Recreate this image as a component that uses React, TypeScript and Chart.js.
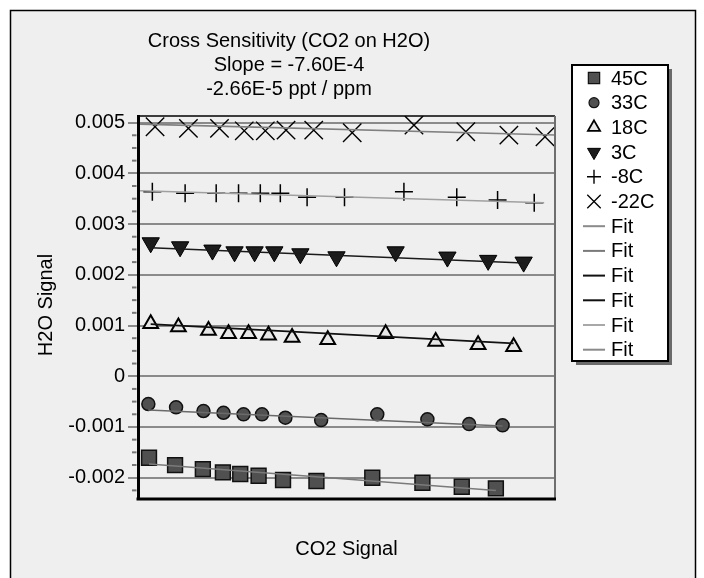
import React, { useEffect, useRef } from 'react';
import { Chart, registerables } from 'chart.js';

Chart.register(...registerables);

// ---------- data ----------
const seriesNames = ['45C', '33C', '18C', '3C', '-8C', '-22C'];

const x45 = [2.64, 8.89, 15.55, 20.36, 24.52, 28.92, 34.78, 42.79, 56.18, 68.2, 77.64, 85.82];
const y45 = [-0.001607, -0.001751, -0.00183, -0.001895, -0.001928, -0.001962, -0.002046, -0.002066, -0.002001, -0.0021, -0.002178, -0.00221];

const x33 = [2.48, 9.13, 15.7, 20.5, 25.31, 29.74, 35.34, 43.92, 57.38, 69.4, 79.4, 87.43];
const y33 = [-0.000548, -0.000613, -0.000686, -0.00072, -0.000751, -0.000751, -0.000818, -0.000864, -0.000751, -0.00085, -0.000943, -0.000968];

const x18 = [3.05, 9.69, 16.9, 21.71, 26.51, 31.3, 36.95, 45.5, 59.38, 71.39, 81.56, 90.07];
const y18 = [0.001034, 0.000969, 0.000904, 0.000837, 0.000837, 0.000806, 0.000766, 0.000719, 0.000837, 0.000687, 0.00062, 0.000581];

const x3 = [3.05, 10.1, 17.86, 23.15, 27.96, 32.69, 38.94, 47.6, 61.78, 74.2, 83.97, 92.48];
const y3 = [0.002631, 0.002552, 0.002487, 0.002453, 0.002453, 0.002453, 0.002414, 0.002355, 0.002453, 0.002349, 0.002284, 0.00225];

const xm8 = [3.44, 11.3, 18.75, 24.11, 29.33, 34.13, 40.55, 49.52, 63.77, 76.44, 86.23, 95.02];
const ym8 = [0.003636, 0.003605, 0.003605, 0.003605, 0.003605, 0.003605, 0.003526, 0.003526, 0.003636, 0.003526, 0.003472, 0.003419];

const xm22 = [4.09, 12.09, 19.54, 25.48, 30.53, 35.5, 42.14, 51.37, 66.18, 78.61, 88.94, 97.6];
const ym22 = [0.004917, 0.004886, 0.004886, 0.004838, 0.004838, 0.004852, 0.004852, 0.004799, 0.004951, 0.004819, 0.004754, 0.00472];

// fit line end points
const fitX45 = [2.64, 85.82];
const fitY45 = [-0.001731, -0.002253];
const fitX33 = [2.48, 87.43];
const fitY33 = [-0.000667, -0.000982];
const fitX18 = [3.05, 90.07];
const fitY18 = [0.001028, 0.000648];
const fitX3 = [3.05, 92.48];
const fitY3 = [0.002532, 0.002233];
const fitXm8 = [0.5, 97.4];
const fitYm8 = [0.003656, 0.003419];
const fitXm22 = [0.5, 100];
const fitYm22 = [0.00497, 0.004754];

const yTickValues = [-0.002, -0.001, 0, 0.001, 0.002, 0.003, 0.004, 0.005];
const yTickLabels = ['-0.002', '-0.001', '0', '0.001', '0.002', '0.003', '0.004', '0.005'];
const yMinorPerMajor = 4;

const titleLines = ['Cross Sensitivity (CO2 on H2O)', 'Slope = -7.60E-4', '-2.66E-5 ppt / ppm'];
const xAxisTitle = 'CO2 Signal';
const yAxisTitle = 'H2O Signal';
const fitLabel = 'Fit';

// ---------- styles ----------
const FONT = "'Liberation Sans', Arial, Helvetica, sans-serif";
const FS = 20;
const BG = '#efefef';
const fitColors = ['#7a7a7a', '#6a6a6a', '#111111', '#1a1a1a', '#a0a0a0', '#808080'];
const legendFitColors = ['#8a8a8a', '#7a7a7a', '#111111', '#111111', '#a8a8a8', '#8a8a8a'];

const toPts = (xs: number[], ys: number[]) => xs.map((x, i) => ({ x, y: ys[i] }));

type MarkerSpec = { style: string; r: number; rot: number; fill: string; stroke: string; lw: number };
const markers: MarkerSpec[] = [
  { style: 'rect', r: 10.5, rot: 0, fill: '#505050', stroke: '#111', lw: 1.5 },
  { style: 'circle', r: 6.5, rot: 0, fill: '#505050', stroke: '#111', lw: 1.5 },
  { style: 'triangle', r: 8.5, rot: 0, fill: '#e6e6e6', stroke: '#000', lw: 2 },
  { style: 'triangle', r: 10, rot: 180, fill: '#1c1c1c', stroke: '#000', lw: 1 },
  { style: 'cross', r: 9, rot: 0, fill: 'rgba(0,0,0,0)', stroke: '#000', lw: 1.5 },
  { style: 'crossRot', r: 13, rot: 0, fill: 'rgba(0,0,0,0)', stroke: '#000', lw: 1.4 },
];
const legendMarkers: MarkerSpec[] = [
  { style: 'rect', r: 8, rot: 0, fill: '#505050', stroke: '#111', lw: 1.2 },
  { style: 'circle', r: 5, rot: 0, fill: '#505050', stroke: '#111', lw: 1.2 },
  { style: 'triangle', r: 7, rot: 0, fill: '#e6e6e6', stroke: '#000', lw: 1.8 },
  { style: 'triangle', r: 7.5, rot: 180, fill: '#1c1c1c', stroke: '#000', lw: 1 },
  { style: 'cross', r: 7, rot: 0, fill: 'rgba(0,0,0,0)', stroke: '#000', lw: 1.4 },
  { style: 'crossRot', r: 9.5, rot: 0, fill: 'rgba(0,0,0,0)', stroke: '#000', lw: 1.3 },
];

function drawMarker(ctx: CanvasRenderingContext2D, m: MarkerSpec, x: number, y: number) {
  ctx.save();
  ctx.fillStyle = m.fill;
  ctx.strokeStyle = m.stroke;
  ctx.lineWidth = m.lw;
  ctx.beginPath();
  const r = m.r;
  if (m.style === 'rect') {
    const s = Math.SQRT1_2 * r;
    ctx.rect(x - s, y - s, 2 * s, 2 * s);
    ctx.fill();
    ctx.stroke();
  } else if (m.style === 'circle') {
    ctx.arc(x, y, r, 0, Math.PI * 2);
    ctx.fill();
    ctx.stroke();
  } else if (m.style === 'triangle') {
    let rad = (m.rot * Math.PI) / 180;
    ctx.moveTo(x + Math.sin(rad) * r, y - Math.cos(rad) * r);
    rad += (2 * Math.PI) / 3;
    ctx.lineTo(x + Math.sin(rad) * r, y - Math.cos(rad) * r);
    rad += (2 * Math.PI) / 3;
    ctx.lineTo(x + Math.sin(rad) * r, y - Math.cos(rad) * r);
    ctx.closePath();
    ctx.fill();
    ctx.stroke();
  } else if (m.style === 'cross') {
    ctx.moveTo(x - r, y);
    ctx.lineTo(x + r, y);
    ctx.moveTo(x, y - r);
    ctx.lineTo(x, y + r);
    ctx.stroke();
  } else if (m.style === 'crossRot') {
    const d = Math.SQRT1_2 * r;
    ctx.moveTo(x - d, y - d);
    ctx.lineTo(x + d, y + d);
    ctx.moveTo(x - d, y + d);
    ctx.lineTo(x + d, y - d);
    ctx.stroke();
  }
  ctx.restore();
}

const W = 704;
const H = 578;

export default function App() {
  const ref = useRef<HTMLCanvasElement | null>(null);

  useEffect(() => {
    const canvas = ref.current;
    if (!canvas) return;

    const pointSets = [toPts(x45, y45), toPts(x33, y33), toPts(x18, y18), toPts(x3, y3), toPts(xm8, ym8), toPts(xm22, ym22)];
    const fitSets = [
      toPts(fitX45, fitY45),
      toPts(fitX33, fitY33),
      toPts(fitX18, fitY18),
      toPts(fitX3, fitY3),
      toPts(fitXm8, fitYm8),
      toPts(fitXm22, fitYm22),
    ];

    const datasets: any[] = [];
    pointSets.forEach((pts, i) => {
      const m = markers[i];
      datasets.push({
        label: seriesNames[i],
        data: pts,
        showLine: false,
        order: 1,
        pointStyle: m.style,
        pointRadius: m.r,
        pointRotation: m.rot,
        pointBackgroundColor: m.fill,
        pointBorderColor: m.stroke,
        pointBorderWidth: m.lw,
      });
    });
    fitSets.forEach((pts, i) => {
      datasets.push({
        label: fitLabel,
        data: pts,
        showLine: true,
        order: 0,
        pointRadius: 0,
        borderColor: fitColors[i],
        borderWidth: 1.6,
        fill: false,
      });
    });

    const framePlugin = {
      id: 'frame',
      beforeDraw(chart: any) {
        const ctx = chart.ctx as CanvasRenderingContext2D;
        ctx.save();
        ctx.fillStyle = '#ffffff';
        ctx.fillRect(0, 0, W, H);
        ctx.fillStyle = BG;
        ctx.fillRect(10, 10, 686, H);
        ctx.strokeStyle = '#000';
        ctx.lineWidth = 1.5;
        ctx.beginPath();
        ctx.moveTo(10.5, H + 5);
        ctx.lineTo(10.5, 10.5);
        ctx.lineTo(695.5, 10.5);
        ctx.lineTo(695.5, H + 5);
        ctx.stroke();
        ctx.restore();
      },
    };

    const overlayPlugin = {
      id: 'overlay',
      afterDatasetsDraw(chart: any) {
        const ctx = chart.ctx as CanvasRenderingContext2D;
        const a = chart.chartArea;
        const ys = chart.scales.y;
        ctx.save();
        ctx.strokeStyle = '#000';
        ctx.lineWidth = 1.5;
        ctx.beginPath();
        ctx.moveTo(a.left, a.top);
        ctx.lineTo(a.right, a.top);
        ctx.stroke();
        ctx.strokeStyle = '#6e6e6e';
        ctx.lineWidth = 2;
        ctx.beginPath();
        ctx.moveTo(a.right, a.top);
        ctx.lineTo(a.right, a.bottom);
        ctx.stroke();
        ctx.strokeStyle = '#000';
        ctx.lineWidth = 3;
        ctx.beginPath();
        ctx.moveTo(a.left - 1.5, a.bottom);
        ctx.lineTo(a.right + 1, a.bottom);
        ctx.stroke();
        // minor ticks between major ticks
        ctx.strokeStyle = '#777';
        ctx.lineWidth = 2;
        const step = yTickValues[1] - yTickValues[0];
        const drawMinor = (v: number) => {
          if (v < ys.min || v > ys.max) return;
          const py = ys.getPixelForValue(v);
          ctx.beginPath();
          ctx.moveTo(a.left - 6, py);
          ctx.lineTo(a.left - 1.5, py);
          ctx.stroke();
        };
        yTickValues.forEach((v0, k) => {
          for (let j = 1; j < yMinorPerMajor; j++) {
            drawMinor(v0 + (step * j) / yMinorPerMajor);
            if (k === 0) drawMinor(v0 - (step * j) / yMinorPerMajor);
          }
        });
        ctx.restore();
      },
      afterDraw(chart: any) {
        const ctx = chart.ctx as CanvasRenderingContext2D;
        const a = chart.chartArea;
        ctx.save();
        ctx.fillStyle = '#000';
        ctx.font = `${FS}px ${FONT}`;
        ctx.textAlign = 'center';
        ctx.textBaseline = 'middle';
        titleLines.forEach((t, i) => ctx.fillText(t, 289, 41 + i * 24.3));
        ctx.fillText(xAxisTitle, (a.left + a.right) / 2, 549);
        ctx.save();
        ctx.translate(46, 305);
        ctx.rotate(-Math.PI / 2);
        ctx.fillText(yAxisTitle, 0, 0);
        ctx.restore();

        // legend box
        const lx = 572, ly = 65, lw = 96, lh = 296;
        ctx.fillStyle = '#6a6a6a';
        ctx.fillRect(lx + 4, ly + 4, lw, lh);
        ctx.fillStyle = '#ffffff';
        ctx.fillRect(lx, ly, lw, lh);
        ctx.strokeStyle = '#000';
        ctx.lineWidth = 2;
        ctx.strokeRect(lx, ly, lw, lh);
        const rowH = 24.7;
        const y0 = 78;
        ctx.textAlign = 'left';
        seriesNames.forEach((name, i) => {
          const yy = y0 + i * rowH;
          drawMarker(ctx, legendMarkers[i], 594, yy);
          ctx.fillStyle = '#000';
          ctx.fillText(name, 611, yy + 1);
        });
        legendFitColors.forEach((c, i) => {
          const yy = y0 + (i + 6) * rowH;
          ctx.strokeStyle = c;
          ctx.lineWidth = 2;
          ctx.beginPath();
          ctx.moveTo(583, yy);
          ctx.lineTo(605, yy);
          ctx.stroke();
          ctx.fillStyle = '#000';
          ctx.fillText(fitLabel, 611, yy + 1);
        });
        ctx.restore();
      },
    };

    const chart = new Chart(canvas, {
      type: 'scatter',
      data: { datasets },
      options: {
        animation: false,
        responsive: false,
        maintainAspectRatio: false,
        devicePixelRatio: 1,
        layout: { padding: { left: 0, top: 116, right: W - 555, bottom: H - 499 } },
        plugins: {
          legend: { display: false },
          title: { display: false },
          tooltip: { enabled: false },
        },
        scales: {
          x: { type: 'linear', display: false, min: 0, max: 100 },
          y: {
            type: 'linear',
            min: -0.00242,
            max: 0.00513,
            afterFit: (s: any) => {
              s.width = 138;
            },
            afterBuildTicks: (s: any) => {
              s.ticks = yTickValues.map((v) => ({ value: v }));
            },
            ticks: {
              callback: (_v: any, i: number) => yTickLabels[i],
              font: { family: FONT, size: FS },
              color: '#000',
              padding: 3,
            },
            grid: {
              color: '#8a8a8a',
              lineWidth: 2,
              tickLength: 10,
              tickColor: '#8a8a8a',
              drawTicks: true,
            },
            border: { display: true, color: '#000', width: 3 },
          },
        },
      },
      plugins: [framePlugin, overlayPlugin],
    } as any);

    return () => {
      chart.destroy();
    };
  }, []);

  return (
    <div style={{ position: 'absolute', left: 0, top: 0, width: W, height: H }}>
      <canvas ref={ref} width={W} height={H} style={{ display: 'block', width: W, height: H }} />
    </div>
  );
}
